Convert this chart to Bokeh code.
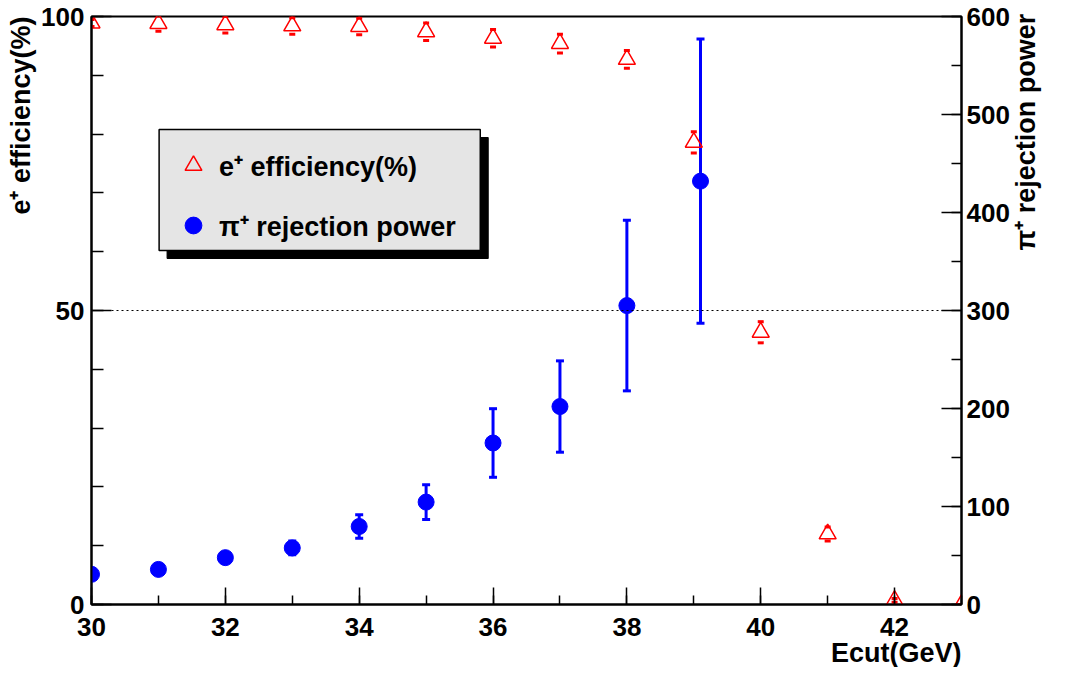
from math import pi
from bokeh.plotting import figure
from bokeh.models import (Range1d, LinearAxis, SingleIntervalTicker, Whisker, TeeHead, Title,
                          ColumnDataSource, Span, BoxAnnotation, Legend, LegendItem)
from bokeh.embed import file_html
from bokeh.resources import INLINE

# ---------------- data ----------------
energy_cut = [30, 31, 32, 33, 34, 35, 36, 37, 38, 39, 40, 41, 42, 43]
efficiency = [98.9, 98.8, 98.6, 98.4, 98.3, 97.4, 96.3, 95.4, 92.7, 78.6, 46.3, 12.0, 0.7, 0.0]
efficiency_err = [0.6, 1.3, 1.4, 1.4, 1.4, 1.5, 1.5, 1.6, 1.5, 1.8, 1.8, 1.2, 0.3, 0.0]

rp_cut = [30, 31, 32, 33, 34, 35, 36, 37, 38, 39.1]
rejection_power = [30.8, 35.8, 47.8, 57.7, 79.6, 104.5, 164.8, 202.0, 305.0, 432.0]
rejection_power_err = [2.0, 2.0, 3.0, 7.0, 12.0, 17.7, 35.0, 46.6, 87.0, 145.0]

x_title = "Ecut(GeV)"
y_title = "e\u207a efficiency(%)"
y2_title = "\u03c0\u207a rejection power"
legend_labels = ["e\u207a efficiency(%)", "\u03c0\u207a rejection power"]

# ---------------- layout ----------------
FONT = "Liberation Sans"
W, H = 1058, 667
RIGHT_TITLE_STANDOFF = 13
BL, BR, BT, BB = 90, 5 + 44 + RIGHT_TITLE_STANDOFF + 31, 16, 63
FW, FH = W - BL - BR, H - BT - BB
X0, X1, Y0, Y1 = 30, 43, 0, 100

p = figure(width=W, height=H, x_range=Range1d(X0, X1), y_range=Range1d(Y0, Y1),
           output_backend="svg", toolbar_location=None,
           min_border_left=BL, min_border_right=BR, min_border_top=BT, min_border_bottom=BB,
           background_fill_color="white", border_fill_color="white")
p.extra_y_ranges = {"rp": Range1d(0, 600)}
p.xgrid.visible = False
p.ygrid.visible = False
p.outline_line_color = "black"
p.outline_line_width = 2


def style_axis(ax, major_in, minor_in, standoff):
    ax.axis_line_width = 2
    ax.axis_line_color = "black"
    ax.major_tick_in = major_in
    ax.major_tick_out = 0
    ax.minor_tick_in = minor_in
    ax.minor_tick_out = 0
    ax.major_tick_line_width = 1.5
    ax.minor_tick_line_width = 1.5
    ax.major_tick_line_color = "black"
    ax.minor_tick_line_color = "black"
    ax.major_label_text_font = FONT
    ax.major_label_text_font_style = "bold"
    ax.major_label_text_font_size = "26px"
    ax.major_label_text_color = "black"
    ax.major_label_standoff = standoff
    ax.axis_label_text_font = FONT
    ax.axis_label_text_font_style = "bold"
    ax.axis_label_text_font_size = "27px"
    ax.axis_label_text_color = "black"


xa = p.xaxis[0]
xa.ticker = SingleIntervalTicker(interval=2, num_minor_ticks=2)
style_axis(xa, 17, 9, 13)

ya = p.yaxis[0]
ya.ticker = SingleIntervalTicker(interval=50, num_minor_ticks=5)
style_axis(ya, 20, 12, 7)

# right axis: its title reads upwards from just above mid-height, as in the reference
ya2 = LinearAxis(y_range_name="rp", ticker=SingleIntervalTicker(interval=100, num_minor_ticks=2))
style_axis(ya2, 20, 10, 5)
ya2.axis_label = "\u00a0" * 8 + y2_title
ya2.axis_label_orientation = pi / 2
ya2.axis_label_align = "center"
ya2.axis_label_standoff = RIGHT_TITLE_STANDOFF
p.add_layout(ya2, "right")

# axis titles aligned to the axis ends
title_kw = dict(text_font=FONT, text_font_style="bold", text_font_size="27px",
                text_color="black", align="right")
p.add_layout(Title(text=y_title, standoff=6, **title_kw), "left")
p.add_layout(Title(text=x_title, standoff=-5, **title_kw), "below")

# dotted reference line at 50 %
p.add_layout(Span(location=50, dimension="width", line_color="black",
                  line_width=1, line_dash="2 3"))

# ---------------- glyphs ----------------
src_eff = ColumnDataSource(dict(
    x=energy_cut, y=efficiency,
    upper=[v + e for v, e in zip(efficiency, efficiency_err)],
    lower=[v - e for v, e in zip(efficiency, efficiency_err)]))
src_rp = ColumnDataSource(dict(
    x=rp_cut, y=rejection_power,
    upper=[v + e for v, e in zip(rejection_power, rejection_power_err)],
    lower=[v - e for v, e in zip(rejection_power, rejection_power_err)]))

tri = p.scatter("x", "y", source=src_eff, marker="triangle", size=17,
                fill_color=None, line_color="red", line_width=1.5)
p.add_layout(Whisker(base="x", upper="upper", lower="lower", source=src_eff,
                     line_alpha=0,
                     upper_head=TeeHead(size=6, line_color="red", line_width=3),
                     lower_head=TeeHead(size=6, line_color="red", line_width=3)))

circ = p.scatter("x", "y", source=src_rp, marker="circle", size=16,
                 fill_color="blue", line_color="blue", y_range_name="rp")
p.add_layout(Whisker(base="x", upper="upper", lower="lower", source=src_rp,
                     y_range_name="rp", line_color="blue", line_width=3,
                     upper_head=TeeHead(size=8, line_color="blue", line_width=3),
                     lower_head=TeeHead(size=8, line_color="blue", line_width=3)))

# ---------------- legend (box + shadow + items) ----------------
def dx(px):
    return X0 + px * (X1 - X0) / FW


def dy(px):
    return Y0 + px * (Y1 - Y0) / FH


FRAME_BOTTOM = H - BB
LB_L, LB_R = 158 - BL, 481 - BL
LB_B, LB_T = FRAME_BOTTOM - 250, FRAME_BOTTOM - 129
SH = 8
p.add_layout(BoxAnnotation(left=dx(LB_L + SH), right=dx(LB_R + SH),
                           bottom=dy(LB_B - SH), top=dy(LB_T - SH),
                           fill_color="black", fill_alpha=1, line_color="black", line_alpha=1))
p.add_layout(BoxAnnotation(left=dx(LB_L), right=dx(LB_R), bottom=dy(LB_B), top=dy(LB_T),
                           fill_color="#e5e5e5", fill_alpha=1, line_color="black",
                           line_alpha=1, line_width=1.5))

legend = Legend(items=[LegendItem(label=legend_labels[0], renderers=[tri]),
                       LegendItem(label=legend_labels[1], renderers=[circ])],
                location=(161 - BL, FRAME_BOTTOM - 256), margin=0, padding=10, spacing=18,
                glyph_width=42, glyph_height=42, label_height=42, label_standoff=5,
                background_fill_alpha=0, border_line_alpha=0,
                label_text_font=FONT, label_text_font_style="bold",
                label_text_font_size="27px", label_text_color="black")
p.add_layout(legend)

open("out.html", "w").write(file_html(p, INLINE))
